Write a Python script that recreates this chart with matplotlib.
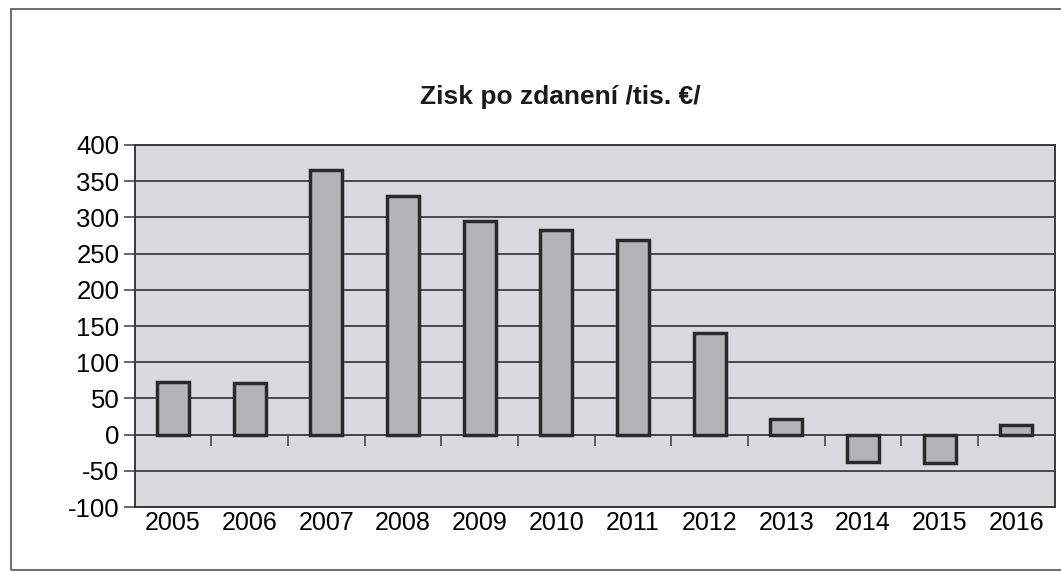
#!/usr/bin/env python3

import matplotlib
matplotlib.use("Agg")
import matplotlib.pyplot as plt
from matplotlib.patches import Rectangle

# data
years = ['2005', '2006', '2007', '2008', '2009', '2010',
         '2011', '2012', '2013', '2014', '2015', '2016']
profit = [73, 71, 366, 330, 295, 283, 269, 141, 22, -38, -39, 14]

y_ticks = [-100, -50, 0, 50, 100, 150, 200, 250, 300, 350, 400]


def main():
    plt.rcParams['font.family'] = ['Liberation Sans', 'DejaVu Sans']

    fig = plt.figure(figsize=(10.61, 5.75), dpi=100)
    ax = fig.add_axes([0.127, 0.118, 0.867, 0.630])

    # outer chart frame
    fig.patches.append(Rectangle((0.0104, 0.009), 1.2, 0.975, transform=fig.transFigure,
                                 fill=False, edgecolor='#555555', linewidth=1.2))

    ax.set_facecolor('#d9dadd')
    x = list(range(len(years)))
    ax.bar(x, profit, width=0.42, color='#b3b4b6', edgecolor='#2a2a2a',
           linewidth=2.5, zorder=3)

    ax.set_xlim(-0.5, len(years) - 0.5)
    ax.set_ylim(-100, 400)
    ax.set_yticks(y_ticks)
    ax.set_yticklabels([str(v) for v in y_ticks], fontsize=18.5)
    ax.yaxis.grid(True, color='#4a4a4a', linewidth=1.4, zorder=1)
    ax.tick_params(axis='y', direction='out', length=8, width=1.2,
                   color='#4a4a4a', pad=3)

    ax.set_xticks(x)
    ax.set_xticklabels(years, fontsize=18)
    ax.tick_params(axis='x', length=0, pad=3)

    for s in ax.spines.values():
        s.set_color('#3a3a3a')
        s.set_linewidth(1.4)

    # category axis crossing at zero, with ticks between categories
    zero_axis = ax.secondary_xaxis(100 / 500)
    zero_axis.set_xticks([i + 0.5 for i in range(len(years) - 1)])
    zero_axis.set_xticklabels([])
    zero_axis.tick_params(direction='out', length=8, width=1.2, color='#4a4a4a')
    zero_axis.spines['bottom'].set_color('#3a3a3a')
    zero_axis.spines['bottom'].set_linewidth(1.4)

    fig.text(0.528, 0.831, 'Zisk po zdanení /tis. €/', ha='center', va='center',
             fontsize=19, fontweight='bold', color='#1a1a1a')

    fig.savefig('out.png', dpi=100)


if __name__ == "__main__":
    main()
